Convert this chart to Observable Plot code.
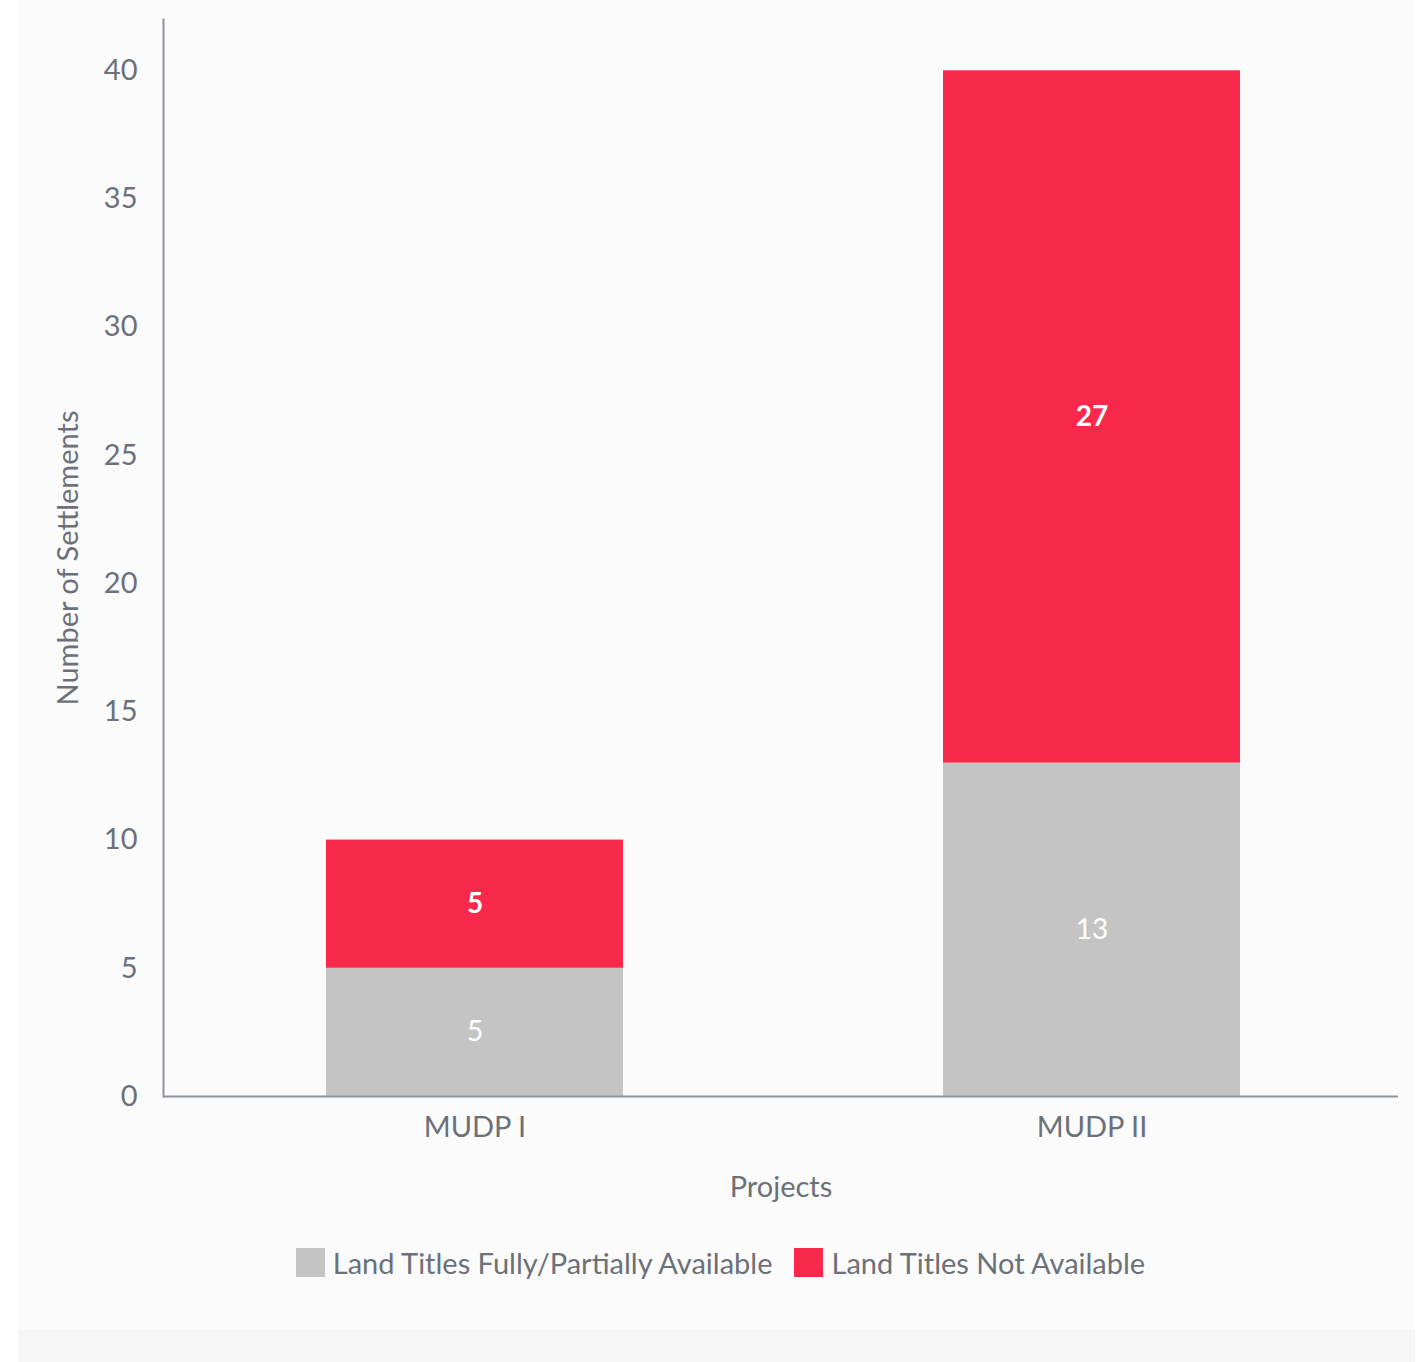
<!DOCTYPE html>
<html>
<head>
<meta charset="utf-8">
<script src="https://cdn.jsdelivr.net/npm/d3@7"></script>
<script src="https://cdn.jsdelivr.net/npm/@observablehq/plot@0.6"></script>
<style>
  html, body { margin: 0; padding: 0; background: #ffffff; }
  body { width: 1427px; height: 1362px; position: relative; overflow: hidden; font-family: Lato, "Noto Sans", sans-serif; }
  #panel { position: absolute; left: 18px; top: 0; width: 1397px; height: 1330px; background: #fbfbfc; }
  #strip { position: absolute; left: 18px; top: 1330px; width: 1397px; height: 32px; background: #f5f5f6; }
  #chart { position: absolute; left: 0; top: 0; }
  #legend { position: absolute; left: 0; width: 1441px; top: 1245px; display: flex; justify-content: center; align-items: center; font-size: 29px; color: #6b7079; }
  .item { display: flex; align-items: center; margin: 0 11px; }
  .sw { width: 29px; height: 29px; margin-right: 8px; }
</style>
</head>
<body>
<div id="panel"></div>
<div id="strip"></div>
<div id="chart"></div>
<div id="legend"></div>
<script>
const projects = ["MUDP I", "MUDP II"];
const seriesNames = ["Land Titles Fully/Partially Available", "Land Titles Not Available"];
const seriesColors = ["#c4c4c4", "#f9294b"];
const available = [5, 13];
const notAvailable = [5, 27];
const yTicks = [0, 5, 10, 15, 20, 25, 30, 35, 40];

const data = [];
projects.forEach((p, i) => {
  data.push({project: p, series: seriesNames[0], value: available[i]});
  data.push({project: p, series: seriesNames[1], value: notAvailable[i]});
});

const textColor = "#6b7079";
const axisColor = "#8d939c";

const labelOpts = (seriesIndex, weight) => ({
  x: "project", y: "value", z: "series", order: seriesNames,
  text: d => d.series === seriesNames[seriesIndex] ? String(d.value) : "",
  fill: "#ffffff",
  fontSize: 28,
  fontWeight: weight
});

const plot = Plot.plot({
  width: 1427,
  height: 1225,
  marginTop: 19,
  marginBottom: 129,
  marginLeft: 163,
  marginRight: 29,
  style: {background: "transparent", fontFamily: "Lato, 'Noto Sans', sans-serif", color: textColor},
  x: {domain: projects, range: [165, 1400], paddingInner: 0.519, paddingOuter: 0.259, label: null},
  y: {domain: [0, 42], label: null},
  color: {domain: seriesNames, range: seriesColors},
  marks: [
    Plot.barY(data, {x: "project", y: "value", fill: "series", order: seriesNames}),
    Plot.text(data, Plot.stackY(labelOpts(0, "normal"))),
    Plot.text(data, Plot.stackY(labelOpts(1, "bold"))),
    Plot.axisY({ticks: yTicks, tickSize: 0, tickPadding: 26, fontSize: 29, label: null, fill: textColor}),
    Plot.axisX({tickSize: 0, tickPadding: 20, fontSize: 29, label: null, fill: textColor}),
    Plot.text(["Number of Settlements"], {frameAnchor: "left", textAnchor: "middle", rotate: -90, dx: -95, fontSize: 29, fill: textColor}),
    Plot.text(["Projects"], {frameAnchor: "bottom", dy: 100, fontSize: 29, fill: textColor}),
    Plot.ruleY([0], {stroke: axisColor, strokeWidth: 2}),
    Plot.frame({anchor: "left", stroke: axisColor, strokeWidth: 2})
  ]
});
document.getElementById("chart").appendChild(plot);

const legend = document.getElementById("legend");
seriesNames.forEach((name, i) => {
  const item = document.createElement("div");
  item.className = "item";
  const sw = document.createElement("div");
  sw.className = "sw";
  sw.style.background = seriesColors[i];
  const label = document.createElement("span");
  label.textContent = name;
  item.appendChild(sw);
  item.appendChild(label);
  legend.appendChild(item);
});
</script>
</body>
</html>
